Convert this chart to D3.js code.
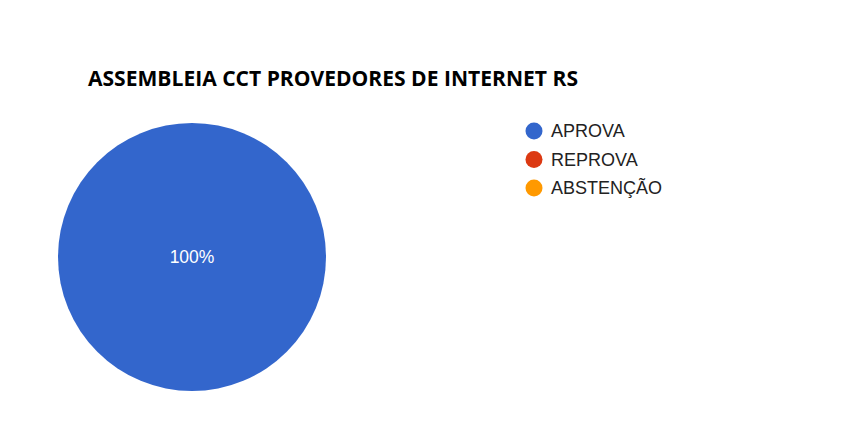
<!DOCTYPE html>
<html><head><meta charset="utf-8">
<script src="https://cdn.jsdelivr.net/npm/d3@7/dist/d3.min.js"></script>
<style>body{margin:0;background:#fff}</style>
</head><body>
<svg id="c" width="843" height="437"></svg>
<script>
const categories = ["APROVA", "REPROVA", "ABSTENÇÃO"];
const values = [100, 0, 0];
const colors = ["#3366cc", "#dc3912", "#ff9900"];
const title = "ASSEMBLEIA CCT PROVEDORES DE INTERNET RS";

const svg = d3.select("#c");
svg.append("rect").attr("width",843).attr("height",437).attr("fill","#fff");
svg.append("text").attr("x",88).attr("y",86)
  .attr("font-family","'Open Sans', sans-serif").attr("font-weight","bold")
  .attr("font-size",21).attr("fill","#000").attr("textLength",490).attr("lengthAdjust","spacingAndGlyphs").text(title);

const cx = 192, cy = 257, r = 134;
const pie = d3.pie().sort(null).value(d=>d);
const arcs = pie(values);
const arc = d3.arc().innerRadius(0).outerRadius(r);
const total = d3.sum(values);
const g = svg.append("g").attr("transform",`translate(${cx},${cy})`);
g.selectAll("path").data(arcs).join("path")
  .attr("d",arc).attr("fill",(d,i)=>colors[i]).attr("stroke","#fff").attr("stroke-width",d=>d.value>0&&d.value<total?1:0);
g.selectAll("text").data(arcs.filter(d=>d.value>0)).join("text")
  .attr("transform",d=> d.value===total ? "translate(0,0)" : `translate(${d3.arc().innerRadius(r*0.6).outerRadius(r*0.6).centroid(d)})`)
  .attr("dy","0.35em").attr("text-anchor","middle")
  .attr("font-family","Arial, 'Liberation Sans', sans-serif").attr("font-size",17.5).attr("fill","#fff")
  .text(d=>Math.round(d.value/total*100)+"%");

const lg = svg.append("g").attr("transform","translate(534,131)");
const items = lg.selectAll("g").data(categories).join("g").attr("transform",(d,i)=>`translate(0,${i*28.5})`);
items.append("circle").attr("r",8.5).attr("fill",(d,i)=>colors[i]);
items.append("text").attr("x",17).attr("dy","0.36em")
  .attr("font-family","Arial, 'Liberation Sans', sans-serif").attr("font-size",18).attr("fill","#222").text(d=>d);
</script>
</body></html>
